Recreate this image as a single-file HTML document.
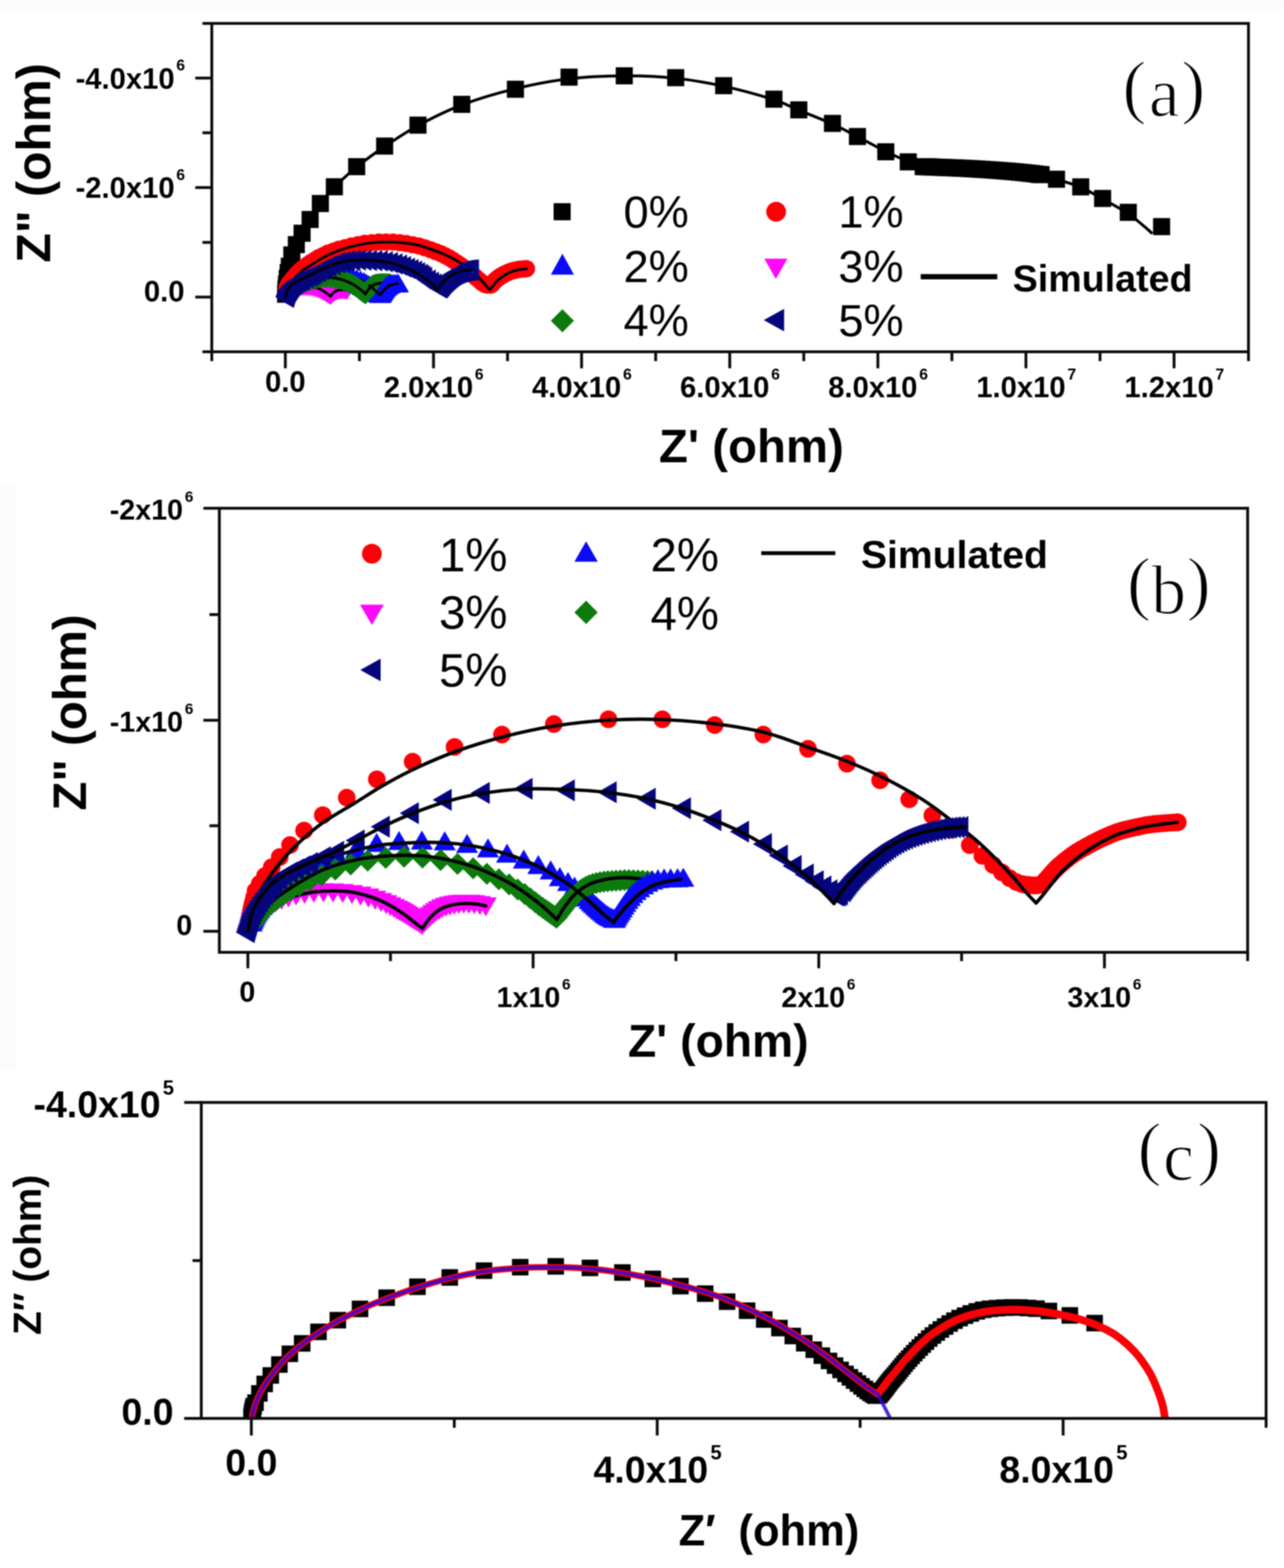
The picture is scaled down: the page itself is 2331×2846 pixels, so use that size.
<!DOCTYPE html>
<html lang="en"><head><meta charset="utf-8"><title>Nyquist impedance plots</title>
<style>
html,body{margin:0;padding:0;background:#fff;}
body{width:2331px;height:2846px;overflow:hidden;}
svg{display:block;filter:blur(1.3px);}
text{fill:#000;}
</style></head><body>
<svg width="2331" height="2846" viewBox="0 0 2331 2846">
<rect x="0" y="0" width="2331" height="2846" fill="#fff"/>
<defs><linearGradient id="gtop" x1="0" y1="0" x2="0" y2="1"><stop offset="0" stop-color="#fafafa"/><stop offset="0.6" stop-color="#fdfdfd"/><stop offset="1" stop-color="#fff"/></linearGradient></defs>
<rect x="0" y="0" width="2331" height="27" fill="url(#gtop)"/>
<rect x="0" y="883" width="29" height="1060" fill="#fbfbfb"/>
<defs>
<marker id="b_red" markerUnits="userSpaceOnUse" markerWidth="32" markerHeight="32" refX="16" refY="16" viewBox="0 0 32 32" orient="0" overflow="visible"><ellipse cx="16" cy="16" rx="16" ry="16" fill="#fb0007"/></marker>
<marker id="a_red" markerUnits="userSpaceOnUse" markerWidth="31" markerHeight="31" refX="15.5" refY="15.5" viewBox="0 0 31 31" orient="0" overflow="visible"><ellipse cx="15.5" cy="15.5" rx="15.5" ry="15.5" fill="#fb0007"/></marker>
<marker id="b_blue" markerUnits="userSpaceOnUse" markerWidth="40" markerHeight="34.6" refX="20" refY="17.3" viewBox="0 0 40 34.6" orient="0" overflow="visible"><path d="M0 34.6 L20 0 L40 34.6 Z" fill="#0a0af6"/></marker>
<marker id="a_blue" markerUnits="userSpaceOnUse" markerWidth="38.8" markerHeight="33.6" refX="19.4" refY="16.8" viewBox="0 0 38.8 33.6" orient="0" overflow="visible"><path d="M0 33.6 L19.4 0 L38.8 33.6 Z" fill="#0a0af6"/></marker>
<marker id="b_mag" markerUnits="userSpaceOnUse" markerWidth="40" markerHeight="34.6" refX="20" refY="17.3" viewBox="0 0 40 34.6" orient="0" overflow="visible"><path d="M0 0 L40 0 L20 34.6 Z" fill="#fb09fb"/></marker>
<marker id="a_mag" markerUnits="userSpaceOnUse" markerWidth="38.8" markerHeight="33.6" refX="19.4" refY="16.8" viewBox="0 0 38.8 33.6" orient="0" overflow="visible"><path d="M0 0 L38.8 0 L19.4 33.6 Z" fill="#fb09fb"/></marker>
<marker id="b_grn" markerUnits="userSpaceOnUse" markerWidth="40" markerHeight="40" refX="20" refY="20" viewBox="0 0 40 40" orient="0" overflow="visible"><path d="M20 0 L40 20 L20 40 L0 20 Z" fill="#0d7a0d"/></marker>
<marker id="a_grn" markerUnits="userSpaceOnUse" markerWidth="38.8" markerHeight="38.8" refX="19.4" refY="19.4" viewBox="0 0 38.8 38.8" orient="0" overflow="visible"><path d="M19.4 0 L38.8 19.4 L19.4 38.8 L0 19.4 Z" fill="#0d7a0d"/></marker>
<marker id="b_navy" markerUnits="userSpaceOnUse" markerWidth="34.6" markerHeight="40" refX="17.3" refY="20" viewBox="0 0 34.6 40" orient="0" overflow="visible"><path d="M34.6 0 L34.6 40 L0 20 Z" fill="#05057e"/></marker>
<marker id="a_navy" markerUnits="userSpaceOnUse" markerWidth="33.6" markerHeight="38.8" refX="16.8" refY="19.4" viewBox="0 0 33.6 38.8" orient="0" overflow="visible"><path d="M33.6 0 L33.6 38.8 L0 19.4 Z" fill="#05057e"/></marker>
<marker id="a_blk" markerUnits="userSpaceOnUse" markerWidth="31" markerHeight="31" refX="15.5" refY="15.5" viewBox="0 0 31 31" orient="0" overflow="visible"><rect width="31" height="31" fill="#000"/></marker>
<marker id="c_blk" markerUnits="userSpaceOnUse" markerWidth="30" markerHeight="30" refX="15" refY="15" viewBox="0 0 30 30" orient="0" overflow="visible"><rect width="30" height="30" fill="#000"/></marker>
</defs>
<g id="panel-a">
<polyline points="518.5,534 519,525 520,515.5 521.4,505.3 523.1,494.6 525.2,483.2 529.8,462.7 538,444 548.4,423.3 563,398.4 581.6,369.4 607,339 647.5,302.5 698.3,265.1 758.8,227.1 838.3,189.4 935.7,162 1033.1,140 1133.3,137.6 1226.7,141 1313.8,155.5 1405,180 1450.2,199.4 1511.3,224 1556.6,247.8 1608.1,275.5 1648.9,293.8 1676,302.5 1683,302.8 1690,303 1697,303.3 1704,303.6 1711,303.9 1718,304.1 1725,304.4 1732,304.7 1739,305 1745.9,305.3 1752.9,305.6 1759.9,306 1766.9,306.4 1773.9,306.8 1780.9,307.2 1787.9,307.7 1794.9,308.1 1801.8,308.6 1808.8,309.1 1815.8,309.6 1822.8,310.2 1829.8,310.7 1836.7,311.3 1843.7,311.9 1850.7,312.6 1857.6,313.3 1864.6,314 1871.6,314.8 1878.5,315.6 1885.5,316.5 1890,317 1918,325.3 1962,339.2 2001.7,360.2 2048.3,385.4 2108.8,411.3" fill="none" stroke="none" marker-start="url(#a_blk)" marker-mid="url(#a_blk)" marker-end="url(#a_blk)"/>
<path d="M518 539C518.3 535 519 523.5 520 515C521 506.5 522.3 496.8 524 488C525.7 479.2 527.7 469.3 530 462C532.3 454.7 534.9 450.3 538 444C541.1 437.7 544.2 431.5 548.4 424C552.6 416.5 557.5 408 563 399C568.5 390 574.3 379.8 581.6 370C588.9 360.2 596 351.2 607 340C618 328.8 632.3 315.3 647.5 303C662.7 290.7 679.8 278.5 698.3 266C716.8 253.5 735.5 240.6 758.8 228C782.1 215.4 808.8 201.7 838.3 190.5C867.8 179.3 903.2 168.9 935.7 161C968.2 153.1 1000.2 146.9 1033.1 143C1066 139.1 1101 137.8 1133.3 137.6C1165.6 137.4 1196.6 138.8 1226.7 142C1256.8 145.2 1284.1 150 1313.8 156.5C1343.5 163 1382.3 173.8 1405 181C1427.7 188.2 1432.5 192.7 1450.2 200C1467.9 207.3 1493.6 217 1511.3 225C1529 233 1540.5 239.7 1556.6 248C1572.7 256.3 1592.7 267.5 1608.1 275C1623.5 282.5 1637.6 288.6 1648.9 293C1660.2 297.4 1659.2 299.4 1676 301.5C1692.8 303.6 1729.3 304.3 1750 305.5C1770.7 306.7 1783.3 307.3 1800 308.5C1816.7 309.7 1835 311.1 1850 312.5C1865 313.9 1878.7 314.9 1890 317C1901.3 319.1 1906 321.5 1918 325.3C1930 329.1 1948 334.1 1962 340C1976 345.9 1987.3 353 2001.7 361C2016.1 369 2036.1 380 2048.3 388C2060.5 396 2067.7 403 2075 409C2082.3 415 2089.2 421.5 2092 424" fill="none" stroke="#000" stroke-width="5.2" stroke-linejoin="round"/>
<polyline points="520.5,524.9 521,523 521.6,520.9 521.6,520.1 523.6,516.8 526,513.1 529.2,509 533,504.2 537.8,498.5 541.2,495.1 544.5,491.7 548.9,488.1 553.3,484.4 558.9,480.3 564.6,476.2 571.6,471.9 578.7,467.5 587.2,463.4 595.6,459.3 605.5,455.8 615.3,452.3 626.5,449.4 637.7,446.5 649.9,444 662.1,441.5 674.9,440.4 687.8,439.3 700.5,439.3 713.2,439.3 725.5,440.6 737.8,442 749.3,444.2 760.7,446.5 771.3,449.8 781.8,453.2 791,456.7 800.1,460.2 807.9,464.1 815.7,468 822.6,472.5 829.4,477 834.9,480.8 840.3,484.6 844.9,487.9 849.5,491.3 853.7,495 858,498.6 863.9,503.6 869,507.9 873.1,511.4 876.8,514.2 879.9,516 882.5,516.9 883.7,517.1 885,517.3 886.2,517.4 887.4,517.5 888.5,517.5 889.7,517.5 890.7,517.3 892.5,516.5 893.2,515.6 894,514.7 894.8,513.8 895.6,513 896.4,512.1 897.2,511.1 898,510.2 898.9,509.3 899.8,508.5 900.8,507.6 901.7,506.8 902.7,506 903.8,505.2 904.8,504.4 905.8,503.6 906.9,502.8 908,502 909.2,501.3 910.4,500.6 911.6,499.9 912.8,499.2 914,498.6 915.3,497.9 916.5,497.2 917.8,496.6 919.2,495.9 920.5,495.3 921.8,494.7 923.2,494.1 924.6,493.5 926,492.9 927.5,492.4 929,491.9 930.5,491.5 932,491.1 933.6,490.8 935.1,490.4 936.7,490.1 938.3,489.7 939.9,489.4 941.6,489.1 943.3,488.8 944.9,488.6 946.7,488.5 948.4,488.3 950.1,488.2 951.9,488.1 953.7,487.9 955.5,487.8 955.9,487.8" fill="none" stroke="none" marker-start="url(#a_red)" marker-mid="url(#a_red)" marker-end="url(#a_red)"/>
<path d="M518 539.1C518.3 537.6 519.3 532.7 520.1 530C520.9 527.3 521.7 525.1 522.7 523C523.6 520.8 524.1 519.6 525.8 517C527.5 514.4 530.2 510.6 532.8 507.4C535.4 504.2 538 501.3 541.3 498.1C544.7 494.9 548.5 491.4 553 488.2C557.6 485 563.6 481.7 568.6 478.6C573.6 475.5 577.9 472.6 582.9 469.8C587.8 467 592.8 464.3 598.4 461.7C604 459.1 609.9 456.6 616.6 454.2C623.3 451.8 631.1 449.4 638.6 447.5C646.2 445.5 653.8 443.8 662 442.5C670.2 441.2 679.5 440.2 687.9 439.7C696.3 439.2 704.1 439.1 712.6 439.4C721 439.7 730.3 440.4 738.5 441.5C746.7 442.5 754.5 443.8 761.8 445.6C769.1 447.5 775.9 450.4 782.3 452.6C788.7 454.9 794.3 456.7 800.2 459.1C806.2 461.6 812.2 464.2 818.1 467.2C824.1 470.2 830.8 474 836 477.3C841.3 480.6 845 483.7 849.5 487.2C854 490.6 858.5 494 863 498.1C867.5 502.1 873 507.8 876.5 511.6C880 515.3 882.2 518.3 884.3 520.6C886.4 523 888.4 525 889.2 525.8" fill="none" stroke="#000" stroke-width="4.8" stroke-linejoin="round" stroke-linecap="round"/>
<path d="M889.2 525.8C889.7 525.2 891.3 523.4 892.3 522.2C893.3 521 893.8 520.3 895.2 518.6C896.6 516.8 898.4 514.2 900.6 511.8C902.9 509.5 905.9 506.8 908.7 504.6C911.5 502.3 914.5 500.4 917.5 498.6C920.5 496.8 923.5 495.2 926.6 493.9C929.6 492.7 932.7 491.8 935.6 491.1C938.6 490.3 941.1 489.8 944.5 489.2C947.8 488.7 953.8 488.1 955.6 487.8" fill="none" stroke="#000" stroke-width="4.8" stroke-linejoin="round" stroke-linecap="round"/>
<polyline points="540.6,513.3 546.1,510.1 552.6,506.9 560.3,503.4 564.6,501.8 569,500.1 573.8,498.7 578.6,497.3 583.9,496.8 589.2,496.4 594.6,496.3 599.9,496.2 605.3,496.4 610.7,496.5 616,497.1 621.2,497.8 626.2,498.8 631.1,499.9 635.6,501.1 640.1,502.3 647.9,505.1 654.8,507.7 660.6,510.2 664.9,513.4 668.8,515.7 671.8,517.8 674.1,519.9 676.1,521.6 677.7,523 678.9,524.2 680,525.2 680.9,525.9 681.8,526.7 682.6,527.5 683.5,528.3 684.4,529.1 685.3,529.8 686.2,530.6 687.1,531.2 688.1,531.9 689.1,532.4 690.2,532.9 690.8,533.1" fill="none" stroke="none" marker-start="url(#a_blue)" marker-mid="url(#a_blue)" marker-end="url(#a_blue)"/>
<path d="M518 539.1C518.4 537.8 519.5 533.6 520.6 531.3C521.7 528.9 523 527.1 524.5 525.1C526 523 527.6 520.6 529.7 518.8C531.7 517 533.9 515.9 536.7 514.2C539.5 512.4 542.3 510.3 546.5 508.4C550.8 506.5 556.5 504.4 562.1 502.7C567.7 501.1 574 499.5 580.3 498.6C586.5 497.7 594.5 497.5 599.7 497.3C604.9 497.1 607.7 497.3 611.4 497.5C615.1 497.8 618.5 498.1 621.8 498.6C625 499.1 627.8 499.7 630.8 500.4C633.9 501.1 637.1 501.9 639.9 502.7C642.7 503.6 645.1 504.6 647.7 505.6C650.3 506.6 652.9 507.7 655.5 509C658.1 510.3 660.7 511.8 663.3 513.4C665.9 515 668.5 516.6 671 518.6C673.6 520.5 676.5 523 678.8 525.1C681.2 527.1 683.4 529.4 685.3 531C687.2 532.7 689.4 534.3 690.2 534.9" fill="none" stroke="#000" stroke-width="4.8" stroke-linejoin="round" stroke-linecap="round"/>
<path d="M690.2 534.9C690.8 534.2 692.4 532 693.6 530.5C694.8 529 696.2 527.5 697.5 526.1C698.8 524.7 700.2 523.4 701.7 522.2C703.1 521 704.7 519.7 706.3 518.8C707.9 517.9 709.6 517.3 711.3 516.8C712.9 516.2 714.7 515.8 716.4 515.5C718.2 515.1 721 514.8 721.9 514.7" fill="none" stroke="#000" stroke-width="4.8" stroke-linejoin="round" stroke-linecap="round"/>
<polyline points="549.1,521.2 553.6,521 558.1,521.1 562.6,521.3 567,521.9 571.1,522.6 574.8,523.5 578,524.6 580.8,525.6 583.1,526.6 585.1,527.6 586.7,528.4 588.1,529.1 589.2,529.8 590.2,530.3 591.3,530.9 592.3,531.5 593.2,532.1 594.2,532.8 595.2,533.4 596.2,534 597.2,534.7 598.2,535.3 599.2,535.9 600.2,536.4 601.3,535.2 602.1,534.2 603.1,533.2 604.1,532.2 605.3,531.3 606.6,530.3 608,529.4 609.5,528.6 611.3,527.9 613.2,527.3 615.2,526.9 617.4,526.6 619.7,526.4 622.1,526.5 624.6,526.6 627.3,527.1 630,527.6" fill="none" stroke="none" marker-start="url(#a_mag)" marker-mid="url(#a_mag)" marker-end="url(#a_mag)"/>
<path d="M518 539.1C518.3 538.5 519.2 536.6 520.1 535.4C520.9 534.2 521.6 533.2 523.2 531.8C524.8 530.4 527.1 528.3 529.7 526.9C532.3 525.4 535.5 524 538.8 523C542 521.9 545.8 521.1 549.1 520.6C552.5 520.2 555.7 520.1 558.7 520.1C561.8 520.1 564.6 520.3 567.3 520.8C570 521.2 572.5 521.9 575.1 522.7C577.7 523.6 580.3 524.5 582.9 525.8C585.4 527.1 588.3 528.9 590.6 530.5C593 532.1 595.5 534.2 597.1 535.4C598.7 536.6 599.7 537.4 600.2 537.8" fill="none" stroke="#000" stroke-width="4.8" stroke-linejoin="round" stroke-linecap="round"/>
<path d="M600.2 537.8C600.7 537.1 601.9 535 603.1 533.6C604.3 532.2 605.9 530.5 607.5 529.5C609.1 528.4 610.7 527.7 612.7 527.1C614.6 526.6 617 526.2 619.2 526.1C621.3 526 623.8 526.2 625.7 526.4C627.5 526.5 629.3 527.1 630.1 527.3" fill="none" stroke="#000" stroke-width="4.8" stroke-linejoin="round" stroke-linecap="round"/>
<polyline points="542.2,517.6 547.1,515.3 552.7,512.7 559.2,510.1 566.4,507.6 574.4,505.8 582.9,504.6 591.6,504 600.2,504.4 608.7,505.6 616.7,507.4 624.1,509.5 630.6,512.1 636.2,514.6 641,517.1 645.1,519.4 648.4,521.6 651.1,523.7 653.3,525.5 655.2,526.9 656.8,528.1 658.2,529.1 659.3,529.9 660.3,530.5 661.2,531.2 662.2,531.9 663.1,532.5 663.4,532.7 664,531.8 664.8,530.8 665.6,529.7 666.5,528.7 667.3,527.6 668.2,526.5 669.1,525.4 670.1,524.2 671.1,523.1 672.1,522 673.2,520.9 674.4,519.9 675.8,519 677.2,518.2 678.7,517.5 680.4,516.9 682.1,516.4 683.8,516.1 685.6,515.8 687.5,515.6 689.4,515.4 691.3,515.3 693.3,515.2 695.4,515.1 697.4,515.1 699.5,515.1 701.7,515.2 703.9,515.3 706.1,515.5 708.1,515.7" fill="none" stroke="none" marker-start="url(#a_grn)" marker-mid="url(#a_grn)" marker-end="url(#a_grn)"/>
<path d="M518 539.1C518.4 538.4 519.5 536.2 520.3 534.9C521.2 533.6 521.6 533 523.2 531.3C524.7 529.6 527.1 527 529.7 524.8C532.3 522.6 534.8 520.7 538.8 518.3C542.7 515.9 548.1 512.4 553.3 510.3C558.4 508.1 564.2 506.5 569.6 505.3C575 504.2 580.9 503.8 585.7 503.5C590.5 503.2 594.6 503.3 598.4 503.5C602.3 503.7 605.3 504.2 608.8 504.8C612.3 505.4 615.7 506.2 619.2 507.1C622.6 508.1 626.1 509.4 629.5 510.8C633 512.2 636.7 513.9 639.9 515.7C643.2 517.5 646.2 519.5 649 521.4C651.8 523.4 654.4 525.4 656.8 527.4C659.2 529.4 662.4 532.6 663.5 533.6" fill="none" stroke="#000" stroke-width="4.8" stroke-linejoin="round" stroke-linecap="round"/>
<path d="M663.5 533.6C664.1 532.6 665.7 529.7 667.2 527.7C668.6 525.6 670.4 523.2 672.3 521.4C674.3 519.6 676.5 518.1 678.8 517C681.2 515.9 684 515.2 686.6 514.7C689.2 514.2 691.8 513.9 694.4 513.9C697 513.9 699.8 514.1 702.2 514.4C704.6 514.7 706.9 515.3 708.7 515.7C710.4 516.1 712.1 516.8 712.8 517" fill="none" stroke="#000" stroke-width="4.8" stroke-linejoin="round" stroke-linecap="round"/>
<polyline points="691.3,532.3 691.9,531.3 692.6,530.3 693.3,529.2 694.1,528.1 694.9,526.8 695.8,525.5 696.8,524.2 697.9,522.7 699.1,521.3 700.6,519.9 702.3,518.6 704.1,517.3 706.2,516 708.5,515 711.1,514.3 714,514 717.1,514 720.3,513.9 723.1,513.7" fill="none" stroke="none" marker-start="url(#a_blue)" marker-mid="url(#a_blue)" marker-end="url(#a_blue)"/>
<path d="M671 518.6C672.3 519.6 676.5 523 678.8 525.1C681.2 527.1 683.4 529.4 685.3 531C687.2 532.7 689.4 534.3 690.2 534.9" fill="none" stroke="#000" stroke-width="4.8" stroke-linejoin="round" stroke-linecap="round"/>
<path d="M690.2 534.9C690.8 534.2 692.4 532 693.6 530.5C694.8 529 696.2 527.5 697.5 526.1C698.8 524.7 700.2 523.4 701.7 522.2C703.1 521 704.7 519.7 706.3 518.8C707.9 517.9 709.6 517.3 711.3 516.8C712.9 516.2 714.7 515.8 716.4 515.5C718.2 515.1 721 514.8 721.9 514.7" fill="none" stroke="#000" stroke-width="4.8" stroke-linejoin="round" stroke-linecap="round"/>
<polyline points="516.7,539.6 516.9,538.7 517.2,537.8 517.5,536.8 517.8,535.7 518.1,534.6 518.5,533.4 518.9,532.2 519.5,530.9 520.2,529.5 521,528.1 521.9,526.6 522.9,525.1 524.1,523.5 525.3,521.8 526.7,520.1 528.3,518.3 530.1,516.5 532.1,514.7 534.4,513 537,511.4 539.9,510 543.1,508.5 546.5,507 552.6,504.3 558.8,501.7 563.7,499 568.5,496.4 574.4,493.1 580.3,489.9 587.2,486.7 594,483.5 601.7,480.4 609.5,477.2 618.5,475.6 627.4,474 637.5,473 647.6,472 657.5,472.4 667.5,472.8 677.3,473.2 687.2,473.6 696.4,475.2 705.6,476.7 713.9,479 722.2,481.2 729.3,484 736.5,486.9 743,489.5 749.5,492.2 754.9,495.1 760.3,498.1 764,500.8 767.8,503.4 774.3,508.4 780,512.4 784.7,515.6 788.3,518 791.2,519.9 792.7,520.9 793.4,521.7 794.2,522.3 795.2,522.3 796.1,521.8 797.4,520.4 798.1,519.4 798.8,518.5 799.5,517.6 800.2,516.6 801,515.7 801.8,514.7 802.6,513.8 803.5,512.9 804.3,512 805.3,511.1 806.2,510.2 807.1,509.3 808.1,508.4 809.1,507.5 810.1,506.6 811.1,505.7 812.1,504.8 813.2,503.9 814.3,503.1 815.4,502.2 816.5,501.4 817.7,500.5 818.9,499.7 820.1,498.9 821.3,498.1 822.6,497.3 824,496.6 825.3,496 826.8,495.4 828.2,494.8 829.7,494.3 831.2,493.8 832.7,493.3 834.2,492.9 835.8,492.4 837.4,492 839,491.7 840.7,491.3 842.3,491 844,490.7 845.7,490.5 847.5,490.3 849.2,490.2 851,490.1 852.8,490" fill="none" stroke="none" marker-start="url(#a_navy)" marker-mid="url(#a_navy)" marker-end="url(#a_navy)"/>
<path d="M518 539.1C518.3 537.6 519.1 532.7 520.1 530C521.1 527.3 522.4 525.2 524 523C525.6 520.7 527.6 518.3 529.7 516.5C531.7 514.7 533.8 513.5 536.2 512.1C538.5 510.7 541.3 509.4 543.9 508.2C546.5 507 549.1 505.9 551.7 504.8C554.3 503.7 556.5 502.9 559.5 501.4C562.5 500 566 498 569.9 496C573.8 494 578.5 491.3 582.9 489.2C587.2 487.2 591.1 485.4 595.8 483.5C600.6 481.7 606.2 479.6 611.4 478.1C616.6 476.6 620.9 475.4 627 474.4C633 473.5 640.8 472.5 647.7 472.1C654.6 471.8 662 472.1 668.5 472.4C674.9 472.6 680.6 473 686.6 473.7C692.7 474.4 698.9 475.3 704.8 476.5C710.6 477.7 716.2 479.2 721.6 480.9C727 482.6 732.4 484.7 737.2 486.6C742 488.5 746.1 490.3 750.2 492.4C754.3 494.4 758.2 496.6 761.8 498.8C765.5 501.1 768.8 503.5 772.2 506.1C775.7 508.7 779.6 511.7 782.6 514.4C785.6 517.1 788.5 520.3 790.4 522.2C792.3 524.1 793.4 525.4 794 526.1" fill="none" stroke="#000" stroke-width="4.8" stroke-linejoin="round" stroke-linecap="round"/>
<path d="M794 526.1C794.7 525.1 796.4 522.2 798.2 519.9C799.9 517.5 802 514.8 804.6 512.1C807.2 509.4 810.7 506.2 813.7 503.8C816.7 501.4 819.8 499.2 822.8 497.5C825.8 495.9 828.9 494.7 831.9 493.7C834.9 492.6 837.9 492 841 491.4C844 490.9 847.6 490.6 850 490.4C852.5 490.2 854.8 490.2 855.7 490.1" fill="none" stroke="#000" stroke-width="4.8" stroke-linejoin="round" stroke-linecap="round"/>
<rect x="384.5" y="42.5" width="1882" height="596" fill="none" stroke="#0c0c0c" stroke-width="5.2"/>
<line x1="367.5" y1="42.5" x2="384.5" y2="42.5" stroke="#0c0c0c" stroke-width="5.2"/>
<line x1="354.5" y1="141.7" x2="384.5" y2="141.7" stroke="#0c0c0c" stroke-width="5.2"/>
<line x1="367.5" y1="241" x2="384.5" y2="241" stroke="#0c0c0c" stroke-width="5.2"/>
<line x1="354.5" y1="340.4" x2="384.5" y2="340.4" stroke="#0c0c0c" stroke-width="5.2"/>
<line x1="367.5" y1="440" x2="384.5" y2="440" stroke="#0c0c0c" stroke-width="5.2"/>
<line x1="354.5" y1="539.2" x2="384.5" y2="539.2" stroke="#0c0c0c" stroke-width="5.2"/>
<line x1="367.5" y1="638.5" x2="384.5" y2="638.5" stroke="#0c0c0c" stroke-width="5.2"/>
<line x1="384.5" y1="638.5" x2="384.5" y2="655.5" stroke="#0c0c0c" stroke-width="5.2"/>
<line x1="518" y1="638.5" x2="518" y2="668.5" stroke="#0c0c0c" stroke-width="5.2"/>
<line x1="652.5" y1="638.5" x2="652.5" y2="655.5" stroke="#0c0c0c" stroke-width="5.2"/>
<line x1="787" y1="638.5" x2="787" y2="668.5" stroke="#0c0c0c" stroke-width="5.2"/>
<line x1="921.4" y1="638.5" x2="921.4" y2="655.5" stroke="#0c0c0c" stroke-width="5.2"/>
<line x1="1055.8" y1="638.5" x2="1055.8" y2="668.5" stroke="#0c0c0c" stroke-width="5.2"/>
<line x1="1190.3" y1="638.5" x2="1190.3" y2="655.5" stroke="#0c0c0c" stroke-width="5.2"/>
<line x1="1324.8" y1="638.5" x2="1324.8" y2="668.5" stroke="#0c0c0c" stroke-width="5.2"/>
<line x1="1459.2" y1="638.5" x2="1459.2" y2="655.5" stroke="#0c0c0c" stroke-width="5.2"/>
<line x1="1593.7" y1="638.5" x2="1593.7" y2="668.5" stroke="#0c0c0c" stroke-width="5.2"/>
<line x1="1728.1" y1="638.5" x2="1728.1" y2="655.5" stroke="#0c0c0c" stroke-width="5.2"/>
<line x1="1862.5" y1="638.5" x2="1862.5" y2="668.5" stroke="#0c0c0c" stroke-width="5.2"/>
<line x1="1997" y1="638.5" x2="1997" y2="655.5" stroke="#0c0c0c" stroke-width="5.2"/>
<line x1="2131.4" y1="638.5" x2="2131.4" y2="668.5" stroke="#0c0c0c" stroke-width="5.2"/>
<line x1="2266.5" y1="638.5" x2="2266.5" y2="655.5" stroke="#0c0c0c" stroke-width="5.2"/>
<text x="336" y="160.7" font-size="53" font-weight="bold" text-anchor="end" font-family='"Liberation Sans", sans-serif'>-4.0x10<tspan dx="3.2" dy="-32.3" font-size="28.6">6</tspan></text>
<text x="336" y="359.4" font-size="53" font-weight="bold" text-anchor="end" font-family='"Liberation Sans", sans-serif'>-2.0x10<tspan dx="3.2" dy="-32.3" font-size="28.6">6</tspan></text>
<text x="335" y="547" font-size="53" font-weight="bold" text-anchor="end" font-family='"Liberation Sans", sans-serif'>0.0</text>
<text x="518" y="711" font-size="53" font-weight="bold" text-anchor="middle" font-family='"Liberation Sans", sans-serif'>0.0</text>
<text x="787.4" y="721" font-size="53" font-weight="bold" text-anchor="middle" font-family='"Liberation Sans", sans-serif'>2.0x10<tspan dx="3.2" dy="-32.3" font-size="28.6">6</tspan></text>
<text x="1056.3" y="721" font-size="53" font-weight="bold" text-anchor="middle" font-family='"Liberation Sans", sans-serif'>4.0x10<tspan dx="3.2" dy="-32.3" font-size="28.6">6</tspan></text>
<text x="1325.2" y="721" font-size="53" font-weight="bold" text-anchor="middle" font-family='"Liberation Sans", sans-serif'>6.0x10<tspan dx="3.2" dy="-32.3" font-size="28.6">6</tspan></text>
<text x="1594.1" y="721" font-size="53" font-weight="bold" text-anchor="middle" font-family='"Liberation Sans", sans-serif'>8.0x10<tspan dx="3.2" dy="-32.3" font-size="28.6">6</tspan></text>
<text x="1863" y="721" font-size="53" font-weight="bold" text-anchor="middle" font-family='"Liberation Sans", sans-serif'>1.0x10<tspan dx="3.2" dy="-32.3" font-size="28.6">7</tspan></text>
<text x="2131.9" y="721" font-size="53" font-weight="bold" text-anchor="middle" font-family='"Liberation Sans", sans-serif'>1.2x10<tspan dx="3.2" dy="-32.3" font-size="28.6">7</tspan></text>
<text x="1364" y="839" font-size="86" font-weight="bold" text-anchor="middle" font-family='"Liberation Sans", sans-serif'>Z' (ohm)</text>
<text transform="translate(91 295.7) rotate(-90)" font-size="87.5" font-weight="bold" text-anchor="middle" font-family='"Liberation Sans", sans-serif'>Z" (ohm)</text>
<rect x="1005" y="368.8" width="31" height="31" fill="#000"/>
<text x="1132" y="413" font-size="82" font-weight="normal" text-anchor="start" font-family='"Liberation Sans", sans-serif'>0%</text>
<path d="M1000 498.5 L1021 460.5 L1042 498.5 Z" fill="#0a0af6"/>
<text x="1132" y="511.5" font-size="82" font-weight="normal" text-anchor="start" font-family='"Liberation Sans", sans-serif'>2%</text>
<path d="M1021 561.3 L1042 582.3 L1021 603.3 L1000 582.3 Z" fill="#0d7a0d"/>
<text x="1132" y="610" font-size="82" font-weight="normal" text-anchor="start" font-family='"Liberation Sans", sans-serif'>4%</text>
<ellipse cx="1409" cy="384.3" rx="18" ry="18" fill="#fb0007"/>
<text x="1522" y="413" font-size="82" font-weight="normal" text-anchor="start" font-family='"Liberation Sans", sans-serif'>1%</text>
<path d="M1387.5 469.5 L1429.5 469.5 L1408.5 506.5 Z" fill="#fb09fb"/>
<text x="1522" y="511.5" font-size="82" font-weight="normal" text-anchor="start" font-family='"Liberation Sans", sans-serif'>3%</text>
<path d="M1423.5 560.5 L1423.5 601.5 L1386.5 581 Z" fill="#05057e"/>
<text x="1522" y="610" font-size="82" font-weight="normal" text-anchor="start" font-family='"Liberation Sans", sans-serif'>5%</text>
<line x1="1671.5" y1="502.3" x2="1810.5" y2="502.3" stroke="#000" stroke-width="9.5"/>
<text x="1838.5" y="528.5" font-size="68.3" font-weight="bold" text-anchor="start" font-family='"Liberation Sans", sans-serif'>Simulated</text>
<text font-weight="normal" font-family='"Liberation Serif", "Noto Serif CJK SC", serif' stroke="#fff" stroke-width="2.2" paint-order="fill stroke" stroke-linejoin="round"><tspan x="2037.7" y="199.5" font-size="130">(</tspan><tspan x="2085.8" y="211.3" font-size="126">a</tspan><tspan x="2144.7" y="199.5" font-size="130">)</tspan></text>
</g>
<g id="panel-b">
<polyline points="452,1678 452.4,1674 452.9,1669.7 453.5,1665.1 454.3,1660 455.3,1654.6 456.5,1648.7 457.9,1642.4 459.6,1635.5 461.6,1628.1 463.9,1620.2 463.9,1617 471.5,1604 481,1590 493.3,1574 507.8,1555.6 526.5,1533.8 552,1507.5 586,1479.4 629.5,1447.8 684.1,1414.4 749.1,1382.6 825.2,1355.7 911.3,1333.2 1005.4,1314.2 1104.6,1305.6 1202.5,1305.6 1297.5,1315.9 1385.7,1333.2 1466.9,1359.1 1537.6,1386.1 1597.7,1416.2 1650.6,1450.8 1692.5,1480 1728,1506 1760.5,1534 1783.5,1553.5 1803,1570 1819,1583.5 1833,1594 1845,1601 1855,1604.5 1859.9,1605.4 1864.7,1606.1 1869.4,1606.6 1874,1606.9 1878.5,1607.1 1882.8,1607 1886.9,1606.1 1893.5,1603 1896.5,1599.6 1899.5,1596.2 1902.5,1592.8 1905.6,1589.4 1908.7,1585.9 1911.8,1582.3 1915,1578.8 1918.3,1575.4 1921.9,1572.1 1925.6,1568.9 1929.3,1565.7 1933.1,1562.5 1937.1,1559.4 1941,1556.3 1945.1,1553.2 1949.3,1550.2 1953.6,1547.3 1958.1,1544.5 1962.6,1541.8 1967.2,1539.2 1971.9,1536.5 1976.7,1533.9 1981.5,1531.3 1986.4,1528.7 1991.4,1526.2 1996.4,1523.7 2001.6,1521.3 2006.8,1518.9 2012.1,1516.6 2017.5,1514.3 2022.9,1512.2 2028.5,1510.1 2034.2,1508.2 2040,1506.6 2046,1505.2 2052,1503.8 2058,1502.5 2064.2,1501.1 2070.3,1499.8 2076.6,1498.5 2082.9,1497.3 2089.4,1496.4 2095.9,1495.6 2102.5,1495 2109.1,1494.4 2115.8,1493.9 2122.6,1493.4 2129.5,1493 2136.4,1492.6 2138.2,1492.5" fill="none" stroke="none" marker-start="url(#b_red)" marker-mid="url(#b_red)" marker-end="url(#b_red)"/>
<path d="M450 1690C451.3 1684.2 455 1665.3 458 1655C461 1644.7 464.3 1636.3 468 1628C471.7 1619.7 473.5 1615 480 1605C486.5 1595 497 1580.2 507 1568C517 1555.8 527 1544.3 540 1532C553 1519.7 567.5 1506.5 585 1494C602.5 1481.5 625.8 1468.8 645 1457C664.2 1445.2 680.8 1433.8 700 1423C719.2 1412.2 738.3 1402 760 1392C781.7 1382 804.2 1372.2 830 1363C855.8 1353.8 885.8 1344.5 915 1337C944.2 1329.5 973.3 1323 1005 1318C1036.7 1313 1072.5 1309 1105 1307C1137.5 1305 1167.5 1304.8 1200 1306C1232.5 1307.2 1268.3 1310 1300 1314C1331.7 1318 1361.8 1322.8 1390 1330C1418.2 1337.2 1444.3 1348.3 1469 1357C1493.7 1365.7 1515 1372.7 1538 1382C1561 1391.3 1584 1401.3 1607 1413C1630 1424.7 1655.8 1439.2 1676 1452C1696.2 1464.8 1710.7 1476.7 1728 1490C1745.3 1503.3 1762.7 1516.3 1780 1532C1797.3 1547.7 1818.3 1569.5 1832 1584C1845.7 1598.5 1853.8 1609.8 1862 1619C1870.2 1628.2 1877.8 1635.7 1881 1639" fill="none" stroke="#000" stroke-width="6.2" stroke-linejoin="round" stroke-linecap="round"/>
<path d="M1881 1639C1883 1636.7 1889.2 1629.7 1893 1625C1896.8 1620.3 1898.7 1617.7 1904 1611C1909.3 1604.3 1916.3 1594 1925 1585C1933.7 1576 1945.2 1565.5 1956 1557C1966.8 1548.5 1978.5 1540.8 1990 1534C2001.5 1527.2 2013.3 1520.8 2025 1516C2036.7 1511.2 2048.5 1508 2060 1505C2071.5 1502 2081.2 1500.1 2094 1498C2106.8 1495.9 2129.8 1493.4 2137 1492.5" fill="none" stroke="#000" stroke-width="6.2" stroke-linejoin="round" stroke-linecap="round"/>
<polyline points="457,1673.5 458.7,1669.3 460.5,1665.2 462.5,1661.1 464.7,1657.3 467.3,1653.5 470.7,1649.1 474.8,1643.8 479.9,1637.4 486.3,1629.9 494.8,1621.4 505.8,1612 519.7,1601.7 537.2,1590.6 558.3,1578.6 583.5,1565.9 613,1552.7 646.5,1539.8 683.8,1529 724.4,1525.5 765.9,1524.8 807.4,1526.1 847.9,1530.8 885.9,1538.9 920.5,1548.5 950.9,1559.2 977.3,1569.3 999.7,1578.9 1016.3,1591.1 1031.2,1599.9 1043,1608.2 1051.8,1616.3 1059.4,1622.7 1065.5,1628.1 1070.5,1632.7 1074.5,1636.4 1077.9,1639.4 1081.3,1642.4 1084.6,1645.4 1088,1648.5 1091.3,1651.4 1094.8,1654.3 1098.2,1657.2 1101.9,1659.8 1105.7,1662.2 1109.7,1664.3 1113.8,1666.1 1116,1667" fill="none" stroke="none" marker-start="url(#b_blue)" marker-mid="url(#b_blue)" marker-end="url(#b_blue)"/>
<path d="M450 1690C451.7 1685 455.8 1669 460 1660C464.2 1651 469.2 1644 475 1636C480.8 1628 487.2 1619 495 1612C502.8 1605 511.2 1600.7 522 1594C532.8 1587.3 543.7 1579.3 560 1572C576.3 1564.7 598.3 1556.3 620 1550C641.7 1543.7 665.8 1537.5 690 1534C714.2 1530.5 745 1529.7 765 1529C785 1528.3 795.8 1529.2 810 1530C824.2 1530.8 837.5 1532.2 850 1534C862.5 1535.8 873.3 1538.3 885 1541C896.7 1543.7 909.2 1546.7 920 1550C930.8 1553.3 940 1557 950 1561C960 1565 970 1569 980 1574C990 1579 1000 1584.8 1010 1591C1020 1597.2 1030 1603.5 1040 1611C1050 1618.5 1060.8 1628 1070 1636C1079.2 1644 1087.7 1652.7 1095 1659C1102.3 1665.3 1110.8 1671.5 1114 1674" fill="none" stroke="#000" stroke-width="6.2" stroke-linejoin="round" stroke-linecap="round"/>
<path d="M1114 1674C1116.2 1671.2 1122.3 1662.7 1127 1657C1131.7 1651.3 1136.8 1645.3 1142 1640C1147.2 1634.7 1152.3 1629.7 1158 1625C1163.7 1620.3 1169.8 1615.5 1176 1612C1182.2 1608.5 1188.5 1606.2 1195 1604C1201.5 1601.8 1208.2 1600.3 1215 1599C1221.8 1597.7 1232.5 1596.5 1236 1596" fill="none" stroke="#000" stroke-width="6.2" stroke-linejoin="round" stroke-linecap="round"/>
<polyline points="457.4,1675.4 459.7,1671.5 462.4,1667.9 465.4,1664.5 468.4,1661.2 471.5,1657.9 475,1654.6 479.5,1650.9 485.2,1646.9 492.3,1642.8 501,1638.5 511.3,1634 523.5,1629.8 537.5,1626.1 553,1623.1 569.8,1621.2 587.2,1620.5 604.6,1620.7 622,1621.7 638.9,1623.7 654.6,1626.5 668.8,1630.1 681.2,1634.1 692,1638.2 701.1,1642.1 708.6,1645.7 715,1649 720.2,1651.8 724.6,1654.1 728.5,1656.3 732.4,1658.5 736.3,1660.9 740.1,1663.3 743.8,1665.7 747.6,1668.2 751.4,1670.6 755.2,1673 759.1,1675.3 762.9,1677.6 766.8,1679.9 771,1675 774.4,1671.3 778,1667.5 782,1663.7 786.6,1660 791.5,1656.3 796.9,1652.7 802.9,1649.5 809.6,1646.9 816.9,1644.8 824.7,1643.1 833,1641.9 841.9,1641.3 851.2,1641.4 861,1642.1 871.2,1643.7 881.9,1646" fill="none" stroke="none" marker-start="url(#b_mag)" marker-mid="url(#b_mag)" marker-end="url(#b_mag)"/>
<path d="M450 1690C451.3 1687.7 454.7 1680.7 458 1676C461.3 1671.3 463.8 1667.5 470 1662C476.2 1656.5 485 1648.7 495 1643C505 1637.3 517.5 1632 530 1628C542.5 1624 557.2 1620.8 570 1619C582.8 1617.2 595.3 1616.9 607 1617C618.7 1617.1 629.5 1617.8 640 1619.5C650.5 1621.2 660 1623.8 670 1627C680 1630.2 690 1634 700 1639C710 1644 720.8 1650.8 730 1657C739.2 1663.2 748.8 1671.3 755 1676C761.2 1680.7 765 1683.5 767 1685" fill="none" stroke="#000" stroke-width="6.2" stroke-linejoin="round" stroke-linecap="round"/>
<path d="M767 1685C768.8 1682.3 773.3 1674.3 778 1669C782.7 1663.7 788.8 1657.2 795 1653C801.2 1648.8 807.5 1646.2 815 1644C822.5 1641.8 831.7 1640.5 840 1640C848.3 1639.5 858 1640.2 865 1641C872 1641.8 879.2 1643.9 882 1644.5" fill="none" stroke="#000" stroke-width="6.2" stroke-linejoin="round" stroke-linecap="round"/>
<polyline points="460.2,1675.5 462.7,1671.8 465.3,1668.1 468.2,1664.6 471.1,1661.3 474.2,1657.9 477.8,1654 482.4,1649.5 488.1,1644.3 495.2,1638.4 503.9,1631.8 514.6,1624.3 527.6,1616 543.3,1607.3 562.2,1598.3 583.9,1588.5 608.7,1578.3 636.7,1568.9 667.5,1561.9 700.2,1557.1 733.6,1555 767,1556.6 799.8,1561.1 830.6,1567.9 859,1576.1 883.9,1586 905.6,1595.9 924.2,1605.3 939.8,1614.4 952.6,1622.8 963,1630.7 971.6,1637.5 978.9,1643.2 985.1,1647.7 990.4,1651.5 994.8,1654.6 998.4,1657.1 1002.1,1659.7 1005.8,1662.3 1009.5,1664.9 1010.4,1665.5 1013,1662 1016,1658 1019.1,1654 1022.3,1649.9 1025.6,1645.7 1029,1641.5 1032.5,1637.2 1036.2,1632.9 1040.1,1628.6 1044.1,1624.3 1048.4,1620.1 1053.1,1616.2 1058.2,1612.7 1063.8,1609.5 1069.7,1606.7 1075.9,1604.5 1082.5,1602.8 1089.3,1601.3 1096.3,1600.3 1103.4,1599.6 1110.8,1599 1118.3,1598.4 1125.9,1598 1133.7,1597.6 1141.7,1597.5 1149.9,1597.7 1158.2,1598.1 1166.6,1598.6 1175.3,1599.3 1183,1600" fill="none" stroke="none" marker-start="url(#b_grn)" marker-mid="url(#b_grn)" marker-end="url(#b_grn)"/>
<path d="M450 1690C451.5 1687.3 455.7 1679 459 1674C462.3 1669 464 1666.5 470 1660C476 1653.5 485 1643.3 495 1635C505 1626.7 514.8 1619.3 530 1610C545.2 1600.7 566.2 1587.3 586 1579C605.8 1570.7 628.2 1564.3 649 1560C669.8 1555.7 692.5 1554.2 711 1553C729.5 1551.8 745.2 1552.2 760 1553C774.8 1553.8 786.7 1555.7 800 1558C813.3 1560.3 826.7 1563.2 840 1567C853.3 1570.8 866.7 1575.5 880 1581C893.3 1586.5 907.5 1593.2 920 1600C932.5 1606.8 944.2 1614.5 955 1622C965.8 1629.5 975.7 1637.2 985 1645C994.3 1652.8 1006.7 1665 1011 1669" fill="none" stroke="#000" stroke-width="6.2" stroke-linejoin="round" stroke-linecap="round"/>
<path d="M1011 1669C1013.3 1665.2 1019.3 1653.8 1025 1646C1030.7 1638.2 1037.5 1628.8 1045 1622C1052.5 1615.2 1060.8 1609.3 1070 1605C1079.2 1600.7 1090 1598 1100 1596C1110 1594 1120 1593.2 1130 1593C1140 1592.8 1150.8 1593.8 1160 1595C1169.2 1596.2 1178.2 1598.3 1185 1600C1191.8 1601.7 1198.3 1604.2 1201 1605" fill="none" stroke="#000" stroke-width="6.2" stroke-linejoin="round" stroke-linecap="round"/>
<polyline points="1118,1664 1120.5,1660.3 1123.1,1656.3 1126,1652.1 1128.9,1647.6 1132.1,1642.8 1135.5,1637.8 1139.3,1632.5 1143.5,1627.1 1148.3,1621.6 1154,1616.3 1160.4,1611.1 1167.4,1605.9 1175.3,1601.1 1184.3,1597.1 1194.5,1594.7 1205.6,1593.5 1217.4,1593.3 1230,1593.1 1240.5,1592.3" fill="none" stroke="none" marker-start="url(#b_blue)" marker-mid="url(#b_blue)" marker-end="url(#b_blue)"/>
<path d="M1040 1611C1045 1615.2 1060.8 1628 1070 1636C1079.2 1644 1087.7 1652.7 1095 1659C1102.3 1665.3 1110.8 1671.5 1114 1674" fill="none" stroke="#000" stroke-width="6.2" stroke-linejoin="round" stroke-linecap="round"/>
<path d="M1114 1674C1116.2 1671.2 1122.3 1662.7 1127 1657C1131.7 1651.3 1136.8 1645.3 1142 1640C1147.2 1634.7 1152.3 1629.7 1158 1625C1163.7 1620.3 1169.8 1615.5 1176 1612C1182.2 1608.5 1188.5 1606.2 1195 1604C1201.5 1601.8 1208.2 1600.3 1215 1599C1221.8 1597.7 1232.5 1596.5 1236 1596" fill="none" stroke="#000" stroke-width="6.2" stroke-linejoin="round" stroke-linecap="round"/>
<polyline points="445,1692 445.9,1688.6 446.9,1685 448,1681.2 449.3,1677.2 450.5,1672.8 451.9,1668.2 453.6,1663.3 455.8,1658.3 458.6,1653.2 461.7,1647.8 465.1,1642.1 469,1636.2 473.3,1630 478.2,1623.6 483.6,1616.9 489.7,1610.1 496.5,1603.2 504.2,1596.2 513.1,1589.5 523.2,1583.4 534.5,1577.9 546.7,1572.2 559.7,1566.4 583.2,1556 607.4,1546 644.7,1525.4 690.3,1500.5 743,1476 802.7,1451.7 871.8,1439.3 949.6,1431.7 1026.2,1434.5 1102.2,1437.9 1173.1,1449.7 1237,1467 1292.3,1488.8 1342.5,1509.5 1384,1532 1413,1552.7 1438,1571.7 1460,1587.3 1478,1599.4 1492,1609 1503,1616 1509,1620 1511.7,1622.9 1514.7,1625.5 1518.5,1625.4 1522,1623.4 1527,1618 1529.7,1614.4 1532.4,1610.7 1535.2,1607.1 1538,1603.4 1541,1599.8 1544,1596.2 1547.1,1592.6 1550.4,1589 1553.9,1585.6 1557.4,1582.2 1561,1578.8 1564.6,1575.3 1568.3,1571.9 1572.1,1568.4 1575.9,1565 1579.9,1561.5 1583.8,1558.1 1587.9,1554.7 1592.1,1551.3 1596.4,1548 1600.8,1544.7 1605.2,1541.4 1609.8,1538.2 1614.5,1535.1 1619.3,1532.1 1624.3,1529.2 1629.5,1526.5 1634.8,1524 1640.2,1521.7 1645.8,1519.6 1651.5,1517.6 1657.3,1515.6 1663.1,1513.7 1669.1,1512 1675.2,1510.3 1681.3,1508.8 1687.6,1507.3 1693.9,1506 1700.3,1504.8 1706.8,1503.8 1713.4,1502.9 1720.1,1502.2 1726.9,1501.6 1733.7,1501.2 1740.7,1501" fill="none" stroke="none" marker-start="url(#b_navy)" marker-mid="url(#b_navy)" marker-end="url(#b_navy)"/>
<path d="M450 1690C451.3 1684.2 454.2 1665.3 458 1655C461.8 1644.7 466.8 1636.7 473 1628C479.2 1619.3 487.2 1610 495 1603C502.8 1596 510.8 1591.3 520 1586C529.2 1580.7 540 1575.7 550 1571C560 1566.3 570 1562.3 580 1558C590 1553.7 598.3 1550.7 610 1545C621.7 1539.3 635 1531.8 650 1524C665 1516.2 683.3 1506 700 1498C716.7 1490 731.7 1483.2 750 1476C768.3 1468.8 790 1460.8 810 1455C830 1449.2 846.7 1444.8 870 1441C893.3 1437.2 923.3 1433.3 950 1432C976.7 1430.7 1005 1432 1030 1433C1055 1434 1076.7 1435.3 1100 1438C1123.3 1440.7 1147.5 1444.3 1170 1449C1192.5 1453.7 1214.2 1459.5 1235 1466C1255.8 1472.5 1276.7 1480.7 1295 1488C1313.3 1495.3 1329.2 1502.2 1345 1510C1360.8 1517.8 1375.8 1526.2 1390 1535C1404.2 1543.8 1416.7 1553 1430 1563C1443.3 1573 1458.3 1584.7 1470 1595C1481.7 1605.3 1492.7 1617.5 1500 1625C1507.3 1632.5 1511.7 1637.5 1514 1640" fill="none" stroke="#000" stroke-width="6.2" stroke-linejoin="round" stroke-linecap="round"/>
<path d="M1514 1640C1516.7 1636 1523.2 1625 1530 1616C1536.8 1607 1545 1596.3 1555 1586C1565 1575.7 1578.3 1563.3 1590 1554C1601.7 1544.7 1613.3 1536.5 1625 1530C1636.7 1523.5 1648.3 1518.9 1660 1515C1671.7 1511.1 1683.3 1508.6 1695 1506.5C1706.7 1504.4 1720.5 1503.3 1730 1502.5C1739.5 1501.7 1748.3 1501.7 1752 1501.5" fill="none" stroke="#000" stroke-width="6.2" stroke-linejoin="round" stroke-linecap="round"/>
<rect x="398.2" y="922.5" width="1866.8" height="806" fill="none" stroke="#0c0c0c" stroke-width="5.2"/>
<line x1="369.2" y1="922.5" x2="398.2" y2="922.5" stroke="#0c0c0c" stroke-width="5.2"/>
<line x1="380.2" y1="1115.5" x2="398.2" y2="1115.5" stroke="#0c0c0c" stroke-width="5.2"/>
<line x1="369.2" y1="1307.3" x2="398.2" y2="1307.3" stroke="#0c0c0c" stroke-width="5.2"/>
<line x1="380.2" y1="1498.8" x2="398.2" y2="1498.8" stroke="#0c0c0c" stroke-width="5.2"/>
<line x1="369.2" y1="1690.3" x2="398.2" y2="1690.3" stroke="#0c0c0c" stroke-width="5.2"/>
<line x1="450" y1="1728.5" x2="450" y2="1757.5" stroke="#0c0c0c" stroke-width="5.2"/>
<line x1="708.9" y1="1728.5" x2="708.9" y2="1744.5" stroke="#0c0c0c" stroke-width="5.2"/>
<line x1="967.8" y1="1728.5" x2="967.8" y2="1757.5" stroke="#0c0c0c" stroke-width="5.2"/>
<line x1="1227.1" y1="1728.5" x2="1227.1" y2="1744.5" stroke="#0c0c0c" stroke-width="5.2"/>
<line x1="1486.4" y1="1728.5" x2="1486.4" y2="1757.5" stroke="#0c0c0c" stroke-width="5.2"/>
<line x1="1745.7" y1="1728.5" x2="1745.7" y2="1744.5" stroke="#0c0c0c" stroke-width="5.2"/>
<line x1="2005" y1="1728.5" x2="2005" y2="1757.5" stroke="#0c0c0c" stroke-width="5.2"/>
<line x1="2265" y1="1728.5" x2="2265" y2="1744.5" stroke="#0c0c0c" stroke-width="5.2"/>
<text x="351" y="942.5" font-size="52" font-weight="bold" text-anchor="end" font-family='"Liberation Sans", sans-serif'>-2x10<tspan dx="3.1" dy="-31.7" font-size="28.1">6</tspan></text>
<text x="351" y="1327.5" font-size="52" font-weight="bold" text-anchor="end" font-family='"Liberation Sans", sans-serif'>-1x10<tspan dx="3.1" dy="-31.7" font-size="28.1">6</tspan></text>
<text x="349" y="1696.5" font-size="52" font-weight="bold" text-anchor="end" font-family='"Liberation Sans", sans-serif'>0</text>
<text x="449" y="1818" font-size="52" font-weight="bold" text-anchor="middle" font-family='"Liberation Sans", sans-serif'>0</text>
<text x="968.6" y="1827.5" font-size="52" font-weight="bold" text-anchor="middle" font-family='"Liberation Sans", sans-serif'>1x10<tspan dx="3.1" dy="-31.7" font-size="28.1">6</tspan></text>
<text x="1485.7" y="1827.5" font-size="52" font-weight="bold" text-anchor="middle" font-family='"Liberation Sans", sans-serif'>2x10<tspan dx="3.1" dy="-31.7" font-size="28.1">6</tspan></text>
<text x="2005" y="1827.5" font-size="52" font-weight="bold" text-anchor="middle" font-family='"Liberation Sans", sans-serif'>3x10<tspan dx="3.1" dy="-31.7" font-size="28.1">6</tspan></text>
<text x="1304" y="1917.7" font-size="84" font-weight="bold" text-anchor="middle" font-family='"Liberation Sans", sans-serif'>Z' (ohm)</text>
<text transform="translate(155.5 1293.2) rotate(-90)" font-size="86" font-weight="bold" text-anchor="middle" font-family='"Liberation Sans", sans-serif'>Z" (ohm)</text>
<ellipse cx="675.1" cy="1005.1" rx="18" ry="18" fill="#fb0007"/>
<text x="797" y="1037.3" font-size="86" font-weight="normal" text-anchor="start" font-family='"Liberation Sans", sans-serif'>1%</text>
<path d="M653.6 1097.5 L696.6 1097.5 L675.1 1134.5 Z" fill="#fb09fb"/>
<text x="797" y="1141" font-size="86" font-weight="normal" text-anchor="start" font-family='"Liberation Sans", sans-serif'>3%</text>
<path d="M691 1195.5 L691 1236.5 L654 1216 Z" fill="#05057e"/>
<text x="797" y="1246.4" font-size="86" font-weight="normal" text-anchor="start" font-family='"Liberation Sans", sans-serif'>5%</text>
<path d="M1042.8 1019.5 L1064 982.5 L1085.2 1019.5 Z" fill="#0a0af6"/>
<text x="1181" y="1037.3" font-size="86" font-weight="normal" text-anchor="start" font-family='"Liberation Sans", sans-serif'>2%</text>
<path d="M1064 1090.3 L1085.2 1111.6 L1064 1132.8 L1042.8 1111.6 Z" fill="#0d7a0d"/>
<text x="1181" y="1142.7" font-size="86" font-weight="normal" text-anchor="start" font-family='"Liberation Sans", sans-serif'>4%</text>
<line x1="1382" y1="1004" x2="1516.5" y2="1004" stroke="#000" stroke-width="6.8"/>
<text x="1563" y="1031" font-size="71" font-weight="bold" text-anchor="start" font-family='"Liberation Sans", sans-serif'>Simulated</text>
<text font-weight="normal" font-family='"Liberation Serif", "Noto Serif CJK SC", serif' stroke="#fff" stroke-width="2.2" paint-order="fill stroke" stroke-linejoin="round"><tspan x="2046" y="1100.6" font-size="130">(</tspan><tspan x="2089.8" y="1113.6" font-size="127">b</tspan><tspan x="2154.4" y="1100.6" font-size="130">)</tspan></text>
</g>
<g id="panel-c">
<clipPath id="clipc"><rect x="365.4" y="2001" width="1933.1" height="573.5"/></clipPath>
<g clip-path="url(#clipc)">
<polyline points="456.5,2572 457.2,2567 458,2562.1 459.1,2557.2 460.4,2552.4 463.9,2545.9 470.9,2529.1 480.5,2511.9 491.6,2496.5 507.2,2476.7 526.2,2457.2 548.6,2438.3 578.2,2417.4 613.3,2396.2 653.6,2375.7 702,2355.4 757.8,2335.5 816.5,2318.6 878.7,2306.3 944.4,2300 1008.9,2298.5 1071,2301.3 1129.9,2309.7 1185.2,2321.3 1235.3,2334.4 1280.2,2348 1320,2362.6 1356.3,2379 1387.4,2395 1415,2410.5 1439.2,2424.9 1460,2438 1477.3,2449.8 1492,2460.6 1505,2470.2 1516,2478.7 1526,2486.5 1535,2493.7 1543,2499.9 1550.5,2505.8 1557.5,2511.2 1564,2516.3 1570,2520.9 1575.5,2524.8 1580.5,2528.2 1585,2530.9 1589,2533.2 1595.5,2532.5 1597.8,2529.8 1600.1,2527.1 1602.5,2524.2 1605,2521.2 1607.4,2518 1609.9,2514.6 1612.5,2511.1 1615.2,2507.6 1618.2,2504 1621.3,2500.4 1624.6,2496.6 1627.9,2492.7 1631.3,2488.5 1634.7,2484.2 1638.4,2479.8 1642.2,2475.2 1646.2,2470.6 1650.5,2465.9 1655,2461 1659.7,2456.1 1664.6,2451 1669.8,2445.8 1675.2,2440.5 1681,2435.2 1687,2429.5 1693.6,2424 1700.6,2418.6 1708,2413.1 1715.8,2407.7 1724,2402.3 1732.8,2397.1 1742.1,2392.4 1752,2388 1762.4,2384 1773.3,2380.2 1784.9,2377.3 1797.2,2375.5 1810,2374.3 1823.3,2373.5 1837.1,2373 1851.4,2373.2 1866.3,2374.1 1881.6,2375.3 1904.2,2379.5 1942.2,2387.5 1987.2,2401.5" fill="none" stroke="none" marker-start="url(#c_blk)" marker-mid="url(#c_blk)" marker-end="url(#c_blk)"/>
<path d="M457 2573C457.7 2570.2 459.2 2562 461 2556C462.8 2550 465.5 2542.8 468 2537C470.5 2531.2 472.9 2526.3 476 2521C479.1 2515.7 480.7 2512.7 486.4 2505C492.1 2497.3 501.4 2484.5 510 2475C518.6 2465.5 528 2456.7 538.3 2448C548.6 2439.3 560.5 2430.8 572 2423C583.5 2415.2 595.7 2407.7 607.4 2401C619.1 2394.3 630.5 2388.7 642 2383C653.5 2377.3 659.2 2374 676.5 2367C693.8 2360 722.7 2348.8 745.7 2341C768.8 2333.2 791.8 2326.2 814.8 2320.5C837.8 2314.8 861 2310.2 884 2307C907 2303.8 932.3 2302.2 953 2301C973.7 2299.8 990.2 2299.8 1008 2300C1025.8 2300.2 1043.4 2300.8 1060 2302C1076.6 2303.2 1088 2304.2 1107.4 2307C1126.8 2309.8 1153.5 2314.2 1176.5 2319C1199.5 2323.8 1222.7 2329.2 1245.7 2335.5C1268.8 2341.8 1291.8 2348.2 1314.8 2357C1337.8 2365.8 1361 2376.2 1384 2388C1407 2399.8 1433.7 2415.8 1453 2428C1472.3 2440.2 1484.7 2449.7 1500 2461C1515.3 2472.3 1532.5 2486.3 1545 2496C1557.5 2505.7 1567 2513.3 1575 2519C1583 2524.7 1590 2528.2 1593 2530" fill="none" stroke="#fb0007" stroke-width="11.5" stroke-linejoin="round"/>
<path d="M1593 2530C1594.7 2528 1599.8 2522 1603 2518C1606.2 2514 1608.4 2510.5 1612 2506C1615.6 2501.5 1619.7 2497 1624.7 2491C1629.7 2485 1636.2 2476.6 1642 2470C1647.8 2463.4 1653.5 2457.3 1659.2 2451.5C1664.9 2445.7 1670.2 2440.2 1676 2435C1681.8 2429.8 1685.1 2426.4 1693.8 2420.5C1702.5 2414.6 1716.9 2405.2 1728.4 2399.5C1739.9 2393.8 1751.5 2389.8 1763 2386.5C1774.5 2383.2 1784.2 2381.1 1797.5 2379.5C1810.8 2377.9 1828.1 2377 1842.5 2377C1856.9 2377 1871.3 2378.2 1884 2379.5C1896.7 2380.8 1907 2382.8 1918.5 2385C1930 2387.2 1941.5 2389.3 1953 2392.5C1964.5 2395.7 1975.6 2398.9 1987.6 2404C1999.6 2409.1 2012.8 2414.8 2024.8 2423C2036.8 2431.2 2049 2441.7 2059.4 2453C2069.8 2464.3 2079.7 2478.7 2087 2491C2094.3 2503.3 2099 2516.8 2103 2527C2107 2537.2 2109 2544 2111 2552C2113 2560 2114.3 2571.2 2115 2575" fill="none" stroke="#fb0007" stroke-width="14" stroke-linejoin="round" stroke-linecap="round"/>
<path d="M457 2573C457.7 2570.2 459.2 2562 461 2556C462.8 2550 465.5 2542.8 468 2537C470.5 2531.2 472.9 2526.3 476 2521C479.1 2515.7 480.7 2512.7 486.4 2505C492.1 2497.3 501.4 2484.5 510 2475C518.6 2465.5 528 2456.7 538.3 2448C548.6 2439.3 560.5 2430.8 572 2423C583.5 2415.2 595.7 2407.7 607.4 2401C619.1 2394.3 630.5 2388.7 642 2383C653.5 2377.3 659.2 2374 676.5 2367C693.8 2360 722.7 2348.8 745.7 2341C768.8 2333.2 791.8 2326.2 814.8 2320.5C837.8 2314.8 861 2310.2 884 2307C907 2303.8 932.3 2302.2 953 2301C973.7 2299.8 990.2 2299.8 1008 2300C1025.8 2300.2 1043.4 2300.8 1060 2302C1076.6 2303.2 1088 2304.2 1107.4 2307C1126.8 2309.8 1153.5 2314.2 1176.5 2319C1199.5 2323.8 1222.7 2329.2 1245.7 2335.5C1268.8 2341.8 1291.8 2348.2 1314.8 2357C1337.8 2365.8 1361 2376.2 1384 2388C1407 2399.8 1433.7 2415.8 1453 2428C1472.3 2440.2 1484.7 2449.7 1500 2461C1515.3 2472.3 1532.5 2486.3 1545 2496C1557.5 2505.7 1567 2513.3 1575 2519C1583 2524.7 1590 2528.2 1593 2530 L1604 2550.5 L1616.5 2575" fill="none" stroke="#3005d5" stroke-width="6.5" stroke-linejoin="round" opacity="0.85"/>
</g>
<rect x="365.4" y="2001" width="1933.1" height="573.5" fill="none" stroke="#0c0c0c" stroke-width="5.2"/>
<line x1="334.4" y1="2001" x2="365.4" y2="2001" stroke="#0c0c0c" stroke-width="5.2"/>
<line x1="349.4" y1="2288" x2="365.4" y2="2288" stroke="#0c0c0c" stroke-width="5.2"/>
<line x1="334.4" y1="2574.5" x2="365.4" y2="2574.5" stroke="#0c0c0c" stroke-width="5.2"/>
<line x1="456.3" y1="2574.5" x2="456.3" y2="2605.5" stroke="#0c0c0c" stroke-width="5.2"/>
<line x1="824.7" y1="2574.5" x2="824.7" y2="2591.5" stroke="#0c0c0c" stroke-width="5.2"/>
<line x1="1193.1" y1="2574.5" x2="1193.1" y2="2605.5" stroke="#0c0c0c" stroke-width="5.2"/>
<line x1="1561.5" y1="2574.5" x2="1561.5" y2="2591.5" stroke="#0c0c0c" stroke-width="5.2"/>
<line x1="1930" y1="2574.5" x2="1930" y2="2605.5" stroke="#0c0c0c" stroke-width="5.2"/>
<line x1="2298.5" y1="2574.5" x2="2298.5" y2="2591.5" stroke="#0c0c0c" stroke-width="5.2"/>
<text x="316" y="2028" font-size="68" font-weight="bold" text-anchor="end" font-family='"Liberation Sans", sans-serif'>-4.0x10<tspan dx="4.1" dy="-41.5" font-size="36.7">5</tspan></text>
<text x="315" y="2585.7" font-size="68" font-weight="bold" text-anchor="end" font-family='"Liberation Sans", sans-serif'>0.0</text>
<text x="456.2" y="2678" font-size="68" font-weight="bold" text-anchor="middle" font-family='"Liberation Sans", sans-serif'>0.0</text>
<text x="1193.8" y="2690.7" font-size="68" font-weight="bold" text-anchor="middle" font-family='"Liberation Sans", sans-serif'>4.0x10<tspan dx="4.1" dy="-41.5" font-size="36.7">5</tspan></text>
<text x="1930.6" y="2690.7" font-size="68" font-weight="bold" text-anchor="middle" font-family='"Liberation Sans", sans-serif'>8.0x10<tspan dx="4.1" dy="-41.5" font-size="36.7">5</tspan></text>
<text y="2805" font-size="79" font-weight="bold" font-family='"Liberation Sans", sans-serif'><tspan x="1232">Z′ </tspan><tspan x="1340.6">(ohm)</tspan></text>
<text transform="translate(74.3 2423) rotate(-90)" font-size="70.5" font-weight="bold" font-family='"Liberation Sans", sans-serif'><tspan x="0">Z″ </tspan><tspan x="95">(ohm)</tspan></text>
<text font-weight="normal" font-family='"Liberation Serif", "Noto Serif CJK SC", serif' stroke="#fff" stroke-width="2.2" paint-order="fill stroke" stroke-linejoin="round"><tspan x="2065.2" y="2127.4" font-size="130">(</tspan><tspan x="2111.6" y="2142.1" font-size="126">c</tspan><tspan x="2173.3" y="2127.4" font-size="130">)</tspan></text>
</g>
</svg>
</body></html>
